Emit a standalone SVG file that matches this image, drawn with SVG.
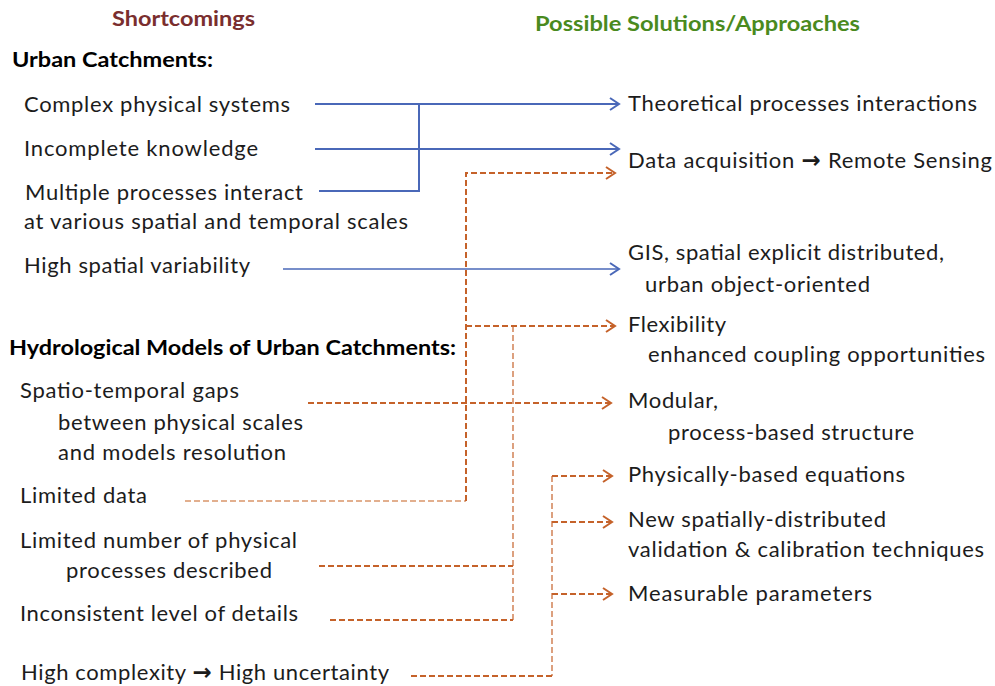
<svg xmlns="http://www.w3.org/2000/svg" width="995" height="686" viewBox="0 0 995 686">
<defs>
<style>
text{font-family:Lato,"Open Sans","Liberation Sans",sans-serif;font-size:22px;fill:#1c1c1c}
.h{font-weight:bold;font-size:20px}
.sec{font-weight:bold;font-size:21px;fill:#000}
.ar{font-family:"DejaVu Sans",sans-serif;font-weight:bold;font-size:23px}
.blue{stroke:#4A68B8;stroke-width:2;fill:none}
.bluet{stroke:#4A68B8;stroke-width:1.5;fill:none}
.or{stroke:#C5622A;stroke-width:2;fill:none;stroke-dasharray:6,3}
.ort{stroke:#C5622A;stroke-width:1.2;fill:none;stroke-dasharray:6,3}
.orl{stroke:#D9956A;stroke-width:1.5;fill:none;stroke-dasharray:6,3}
</style>
<marker id="ab" markerWidth="12" markerHeight="14" refX="10" refY="7" orient="auto" markerUnits="userSpaceOnUse"><polyline points="1,1 10,7 1,13" fill="none" stroke="#4A68B8" stroke-width="2"/></marker>
<marker id="ao" markerWidth="12" markerHeight="14" refX="10" refY="7" orient="auto" markerUnits="userSpaceOnUse"><polyline points="1,1 10,7 1,13" fill="none" stroke="#C5622A" stroke-width="2"/></marker>
</defs>
<g id="headers">
<text class="h" x="112" y="26" textLength="143" lengthAdjust="spacingAndGlyphs" style="fill:#7A2E2E">Shortcomings</text>
<text class="h" x="535" y="31" textLength="325" lengthAdjust="spacingAndGlyphs" style="fill:#4A8A1E">Possible Solutions/Approaches</text>
</g>
<g id="sec1"><text class="sec" x="12" y="67" textLength="201" lengthAdjust="spacingAndGlyphs">Urban Catchments:</text></g>
<g id="sec2"><text class="sec" x="9" y="355" textLength="447" lengthAdjust="spacingAndGlyphs">Hydrological Models of Urban Catchments:</text></g>
<g id="s1"><text x="24" y="112" textLength="266" lengthAdjust="spacing">Complex physical systems</text></g>
<g id="s2"><text x="24" y="156" textLength="234" lengthAdjust="spacing">Incomplete knowledge</text></g>
<g id="s3"><text x="25" y="200" textLength="278" lengthAdjust="spacing">Multiple processes interact</text><text x="24" y="229" textLength="384" lengthAdjust="spacing">at various spatial and temporal scales</text></g>
<g id="s4"><text x="24" y="273" textLength="226" lengthAdjust="spacing">High spatial variability</text></g>
<g id="s5"><text x="20" y="398" textLength="219" lengthAdjust="spacing">Spatio-temporal gaps</text><text x="58" y="430" textLength="245" lengthAdjust="spacing">between physical scales</text><text x="58" y="460" textLength="228" lengthAdjust="spacing">and models resolution</text></g>
<g id="s6"><text x="20" y="503" textLength="127" lengthAdjust="spacing">Limited data</text></g>
<g id="s7"><text x="20" y="548" textLength="277" lengthAdjust="spacing">Limited number of physical</text><text x="66" y="578" textLength="206" lengthAdjust="spacing">processes described</text></g>
<g id="s8"><text x="20" y="621" textLength="278" lengthAdjust="spacing">Inconsistent level of details</text></g>
<g id="s9"><text x="21" y="680" textLength="368" lengthAdjust="spacing">High complexity <tspan class="ar">→</tspan> High uncertainty</text></g>
<g id="r1"><text x="628" y="111" textLength="349" lengthAdjust="spacing">Theoretical processes interactions</text></g>
<g id="r2"><text x="628" y="168" textLength="364" lengthAdjust="spacing">Data acquisition <tspan class="ar">→</tspan> Remote Sensing</text></g>
<g id="r3"><text x="628" y="260" textLength="316" lengthAdjust="spacing">GIS, spatial explicit distributed,</text><text x="645" y="292" textLength="225" lengthAdjust="spacing">urban object-oriented</text></g>
<g id="r4"><text x="628" y="332" textLength="98" lengthAdjust="spacing">Flexibility</text><text x="648" y="362" textLength="337" lengthAdjust="spacing">enhanced coupling opportunities</text></g>
<g id="r5"><text x="628" y="408" textLength="90" lengthAdjust="spacing">Modular,</text><text x="668" y="440" textLength="246" lengthAdjust="spacing">process-based structure</text></g>
<g id="r6"><text x="628" y="482" textLength="277" lengthAdjust="spacing">Physically-based equations</text></g>
<g id="r7"><text x="628" y="527" textLength="258" lengthAdjust="spacing">New spatially-distributed</text><text x="628" y="557" textLength="356" lengthAdjust="spacing">validation &amp; calibration techniques</text></g>
<g id="r8"><text x="628" y="601" textLength="244" lengthAdjust="spacing">Measurable parameters</text></g>
<g id="connectors">
<path class="blue" d="M315,104H619" marker-end="url(#ab)"/>
<path class="blue" d="M315,149H619" marker-end="url(#ab)"/>
<path class="blue" d="M319,191H419V104"/>
<path class="bluet" d="M283,269H619" marker-end="url(#ab)"/>
<path class="orl" d="M185,501H466"/>
<path class="or" d="M466,501V173H615" marker-end="url(#ao)"/>
<path class="or" d="M466,326H615" marker-end="url(#ao)"/>
<path class="ort" d="M513,326V620"/>
<path class="or" d="M319,566H513"/>
<path class="or" d="M330,620H513"/>
<path class="or" d="M308,403H611" marker-end="url(#ao)"/>
<path class="ort" d="M552,476V676"/>
<path class="or" d="M411,676H552"/>
<path class="or" d="M552,476H612" marker-end="url(#ao)"/>
<path class="or" d="M552,522H612" marker-end="url(#ao)"/>
<path class="or" d="M552,594H612" marker-end="url(#ao)"/>
</g>
</svg>
